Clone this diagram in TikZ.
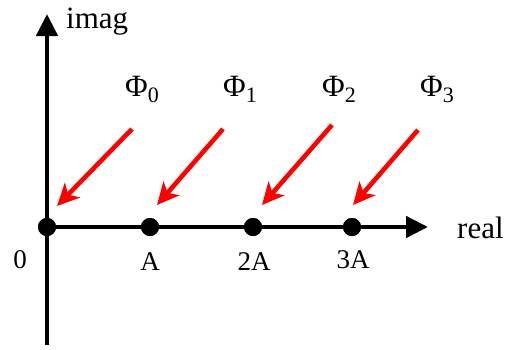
\documentclass[tikz,border=0pt]{standalone}
\usepackage{fontspec}
\setmainfont{Liberation Serif}
\usetikzlibrary{arrows.meta}
\tikzset{
  axis/.style={line width=4.6pt, -{Triangle[length=22pt,width=21pt]}},
  dotnode/.style={circle, fill=black, inner sep=0pt, minimum size=18pt},
  redarrow/.style={red, line width=4.6pt, -{Stealth[length=22pt,width=21pt,inset=6pt]}},
  biglabel/.style={font=\fontsize{31}{33}\selectfont, inner sep=0pt},
  ticklabel/.style={font=\fontsize{27}{29}\selectfont, inner sep=0pt, anchor=base},
}
\newcommand{\phisub}[1]{Φ\raisebox{-6pt}{\fontsize{22}{22}\selectfont #1}}
\begin{document}
\begin{tikzpicture}[x=1pt,y=-1pt]
\useasboundingbox (0,0) rectangle (517,349);
% axes
\coordinate (vbot) at (47,345);
\coordinate (vtop) at (47,14);
\coordinate (hend) at (428,227);
\node[dotnode] (d0) at (47,227) {};
\node[dotnode] (d1) at (150,227) {};
\node[dotnode] (d2) at (253,227) {};
\node[dotnode] (d3) at (352,227) {};
\draw[axis] (vbot) -- (vtop);
\draw[axis] (d0.center) -- (hend);
\foreach \i in {0,1,2,3} \node[dotnode] at (d\i) {};
% labels
\node[biglabel, anchor=base west] (imag) at (66,28) {imag};
\node[biglabel, anchor=base west] (real) at (457,238) {real};
\node[ticklabel] (l0) at (20,268) {0};
\node[ticklabel] (l1) at (150,270) {A};
\node[ticklabel] (l2) at (254,270) {2A};
\node[ticklabel] (l3) at (353,268) {3A};
\node[biglabel, anchor=base west] (p0) at (125,96) {\phisub{0}};
\node[biglabel, anchor=base west] (p1) at (223,96) {\phisub{1}};
\node[biglabel, anchor=base west] (p2) at (322,96) {\phisub{2}};
\node[biglabel, anchor=base west] (p3) at (420,96) {\phisub{3}};
% red arrows
\coordinate (s0) at (132,129);
\coordinate (t0) at (57,206);
\coordinate (s1) at (223,129);
\coordinate (t1) at (157,205);
\coordinate (s2) at (332,125);
\coordinate (t2) at (262,205);
\coordinate (s3) at (418,130);
\coordinate (t3) at (353,205);
\foreach \i in {0,1,2,3} \draw[redarrow] (s\i) -- (t\i);
\end{tikzpicture}
\end{document}
